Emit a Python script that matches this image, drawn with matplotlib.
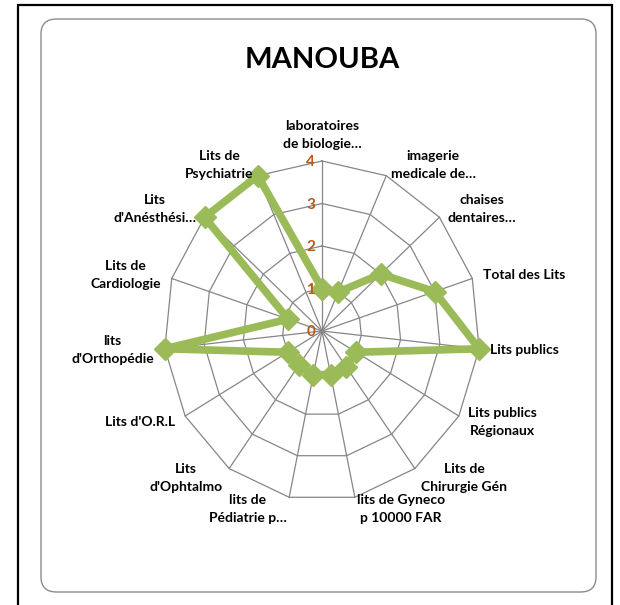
import numpy as np
import matplotlib.pyplot as plt
from matplotlib.patches import FancyBboxPatch, Rectangle

title = "MANOUBA"
categories = [
    "laboratoires\nde biologie…",
    "imagerie\nmedicale de…",
    "chaises\ndentaires…",
    "Total des Lits",
    "Lits publics",
    "Lits publics\nRégionaux",
    "Lits de\nChirurgie Gén",
    "lits de Gyneco\np 10000 FAR",
    "lits de\nPédiatrie p…",
    "Lits\nd'Ophtalmo",
    "Lits d'O.R.L",
    "lits\nd'Orthopédie",
    "Lits de\nCardiologie",
    "Lits\nd'Anésthési…",
    "Lits de\nPsychiatrie",
]
values = [1.0, 1.0, 2.0, 3.0, 4.0, 1.0, 1.05, 1.05, 1.05, 1.0, 1.0, 4.0, 0.9, 4.0, 4.0]
levels = [0, 1, 2, 3, 4]

GRID = "#868686"
GREEN = "#9BBB59"
TICK = "#B85A15"

plt.rcParams['font.family'] = ['Lato', 'DejaVu Sans']

W, H = 620, 605
fig = plt.figure(figsize=(W / 100, H / 100), dpi=100)

# outer black frame (bottom edge runs off the picture)
fig.patches.append(Rectangle((18 / W, -0.02), 594 / W, 1 - 5 / H + 0.02,
                             transform=fig.transFigure, fill=False,
                             edgecolor="black", lw=1.6, zorder=-2))
# rounded chart area
fig.patches.append(FancyBboxPatch((41 / W, 13 / H), 555 / W, 573 / H,
                                  boxstyle="round,pad=0,rounding_size=0.025",
                                  transform=fig.transFigure, facecolor="none",
                                  edgecolor="#8c8c8c", lw=1.0, zorder=-1))

fig.text(322 / W, 1 - 60 / H, title, ha="center", va="center",
         fontsize=21, fontweight="bold")

ax = fig.add_axes([164 / W, 104 / H, 316 / W, 340 / H], projection="polar")
ax.set_aspect("auto")
ax.set_theta_zero_location("N")
ax.set_theta_direction(-1)
ax.set_ylim(0, levels[-1])
ax.set_xticks([])
ax.set_yticks([])
ax.grid(False)
ax.spines["polar"].set_visible(False)
ax.patch.set_alpha(0)

n = len(categories)
theta = np.arange(n) * 2 * np.pi / n
theta_c = np.append(theta, theta[0])

for lv in levels[1:]:
    ax.plot(theta_c, [lv] * (n + 1), color=GRID, lw=0.9, clip_on=False, zorder=1)
for t in theta:
    ax.plot([t, t], [0, levels[-1]], color=GRID, lw=0.9, clip_on=False, zorder=1)

vals_c = np.append(values, values[0])
ax.plot(theta_c, vals_c, color=GREEN, lw=5.5, marker="D", markersize=11,
        clip_on=False, zorder=5)

for lv in levels:
    ax.annotate(str(lv), xy=(0, lv), xytext=(-5, -1), textcoords="offset points",
                ha="right", va="center", color=TICK, fontsize=11,
                fontweight="bold", zorder=6)

for t, lab in zip(theta, categories):
    s, c = np.sin(t), np.cos(t)
    if abs(s) < 0.05:
        ha = "center"
        r = 4.25
    else:
        ha = "left" if s > 0 else "right"
        r = 4.28
    va = "bottom" if c > 0.99 else ("top" if c < -0.99 else "center")
    ax.text(t, r, lab, ha=ha, va=va, multialignment="center", fontsize=10,
            fontweight="bold", linespacing=1.6, zorder=7)

fig.savefig("out.png", dpi=100)
